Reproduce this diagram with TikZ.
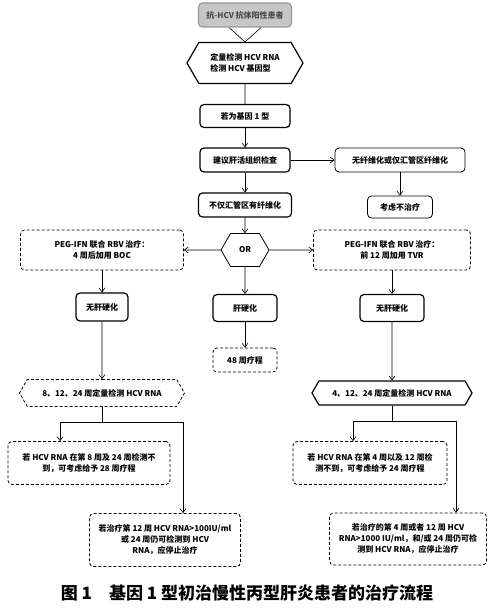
\documentclass[tikz,border=0pt]{standalone}
\usepackage{fontspec}
\setmainfont{Noto Sans CJK SC}
\usepackage{tikz}
\usetikzlibrary{arrows.meta, positioning, shapes.symbols}

\begin{document}
\begin{tikzpicture}[on grid, >={Straight Barb[length=4pt,width=6pt]},
        every node/.style={font=\bfseries\fontsize{8}{11}\selectfont},
        proc/.style={draw, rectangle, rounded corners=4pt, very thick, align=center, inner sep=2pt},
        dproc/.style={proc, thick, densely dashed},
        hexa/.style={draw, signal, signal to=east and west, signal pointer angle=120, very thick, align=center, inner sep=2pt},
        link/.style={semithick}]

  \useasboundingbox (0,0) rectangle (500pt,-610pt);

  % main column
  \node[proc, fill=gray!45, draw=gray!80, text=black!70, minimum width=93pt, minimum height=24pt] (anti) at (245pt,-15pt) {抗-HCV 抗体阳性患者};
  \node[hexa, align=left, minimum width=116pt, minimum height=41pt] (dect) [below=48pt of anti] {定量检测 HCV RNA\\检测 HCV 基因型};
  \node[proc, minimum width=90pt, minimum height=23pt] (geno) [below=53pt of dect] {若为基因 1 型};
  \node[proc, minimum width=90pt, minimum height=24pt] (biopsy) [below=44pt of geno] {建议肝活组织检查};
  \node[proc, thick, minimum width=130pt, minimum height=24pt] (nofib) [right=155pt of biopsy] {无纤维化或仅汇管区纤维化};
  \node[proc, minimum width=93pt, minimum height=24pt] (fib) [below=45pt of biopsy] {不仅汇管区有纤维化};
  \node[proc, thick, minimum width=65pt, minimum height=22pt] (notreat) [below=47pt of nofib] {考虑不治疗};
  \node[hexa, thick, minimum width=48pt, minimum height=33pt] (or) [below=45pt of fib] {OR};

  % three branches
  \node[dproc, minimum width=163pt, minimum height=40pt] (boc) [left=143pt of or] {PEG-IFN 联合 RBV 治疗：\\4 周后加用 BOC};
  \node[dproc, minimum width=157pt, minimum height=40pt] (tvr) [right=147pt of or] {PEG-IFN 联合 RBV 治疗：\\前 12 周加用 TVR};
  \node[proc, minimum width=52pt, minimum height=28pt] (nocirL) [below=57pt of boc] {无肝硬化};
  \node[proc, minimum width=64pt, minimum height=27pt] (cirr) [below=58pt of or] {肝硬化};
  \node[dproc, minimum width=64pt, minimum height=24pt] (w48) [below=52pt of cirr] {48 周疗程};
  \node[proc, minimum width=64pt, minimum height=27pt] (nocirR) [below=58pt of tvr] {无肝硬化};

  % response guided
  \node[hexa, thick, densely dashed, minimum width=165pt, minimum height=27pt] (hexL) [below=86pt of nocirL] {8、12、24 周定量检测 HCV RNA};
  \node[hexa, minimum width=160pt, minimum height=24pt] (hexR) [below=85pt of nocirR] {4、12、24 周定量检测 HCV RNA};
  \node[dproc, minimum width=162pt, minimum height=43pt] (lowL) [below=70pt of hexL, xshift=-13pt] {若 HCV RNA 在第 8 周及 24 周检测不\\到，可考虑给予 28 周疗程};
  \node[dproc, minimum width=154pt, minimum height=43pt] (lowR) [below=70pt of hexR, xshift=-22pt] {若 HCV RNA 在第 4 周以及 12 周检\\测不到，可考虑给予 24 周疗程};
  \node[dproc, minimum width=151pt, minimum height=53pt] (stopL) [below=77pt of lowL, xshift=76pt] {若治疗第 12 周 HCV RNA>100IU/ml\\或 24 周仍可检测到 HCV\\RNA，应停止治疗};
  \node[dproc, minimum width=157pt, minimum height=52pt] (stopR) [below=76pt of lowR, xshift=38pt] {若治疗的第 4 周或者 12 周 HCV\\RNA>1000 IU/ml，和/或 24 周仍可检\\测到 HCV RNA，应停止治疗};

  \node[font=\bfseries\fontsize{17}{20}\selectfont] (caption) at (247pt,-593pt) {图 1\quad 基因 1 型初治慢性丙型肝炎患者的治疗流程};

  \draw[link] ([xshift=-16pt]anti.south) -- (dect.north) -- ([xshift=16pt]anti.south);
  \draw[link] (dect) -- (geno);
  \path[link,->] (geno) edge (biopsy)
                 (biopsy) edge (nofib)
                 (biopsy) edge (fib)
                 (nofib) edge (notreat)
                 (fib) edge (or)
                 (or) edge (boc)
                 (or) edge (tvr)
                 (or) edge (cirr)
                 (cirr) edge (w48)
                 (boc) edge (nocirL)
                 (tvr) edge (nocirR)
                 (nocirL) edge (hexL)
                 (nocirR) edge (hexR);
  \draw[link,->] (hexL.south) -- ++(0,-15pt) coordinate (splitL) -| ([xshift=-29pt]lowL.north);
  \draw[link,->] (splitL) -| ([xshift=18pt]stopL.north);
  \draw[link,->] (hexR.south) -- ++(0,-16pt) coordinate (splitR) -| ([xshift=-17pt]lowR.north);
  \draw[link,->] (splitR) -| ([xshift=48pt]stopR.north);
\end{tikzpicture}
\end{document}
